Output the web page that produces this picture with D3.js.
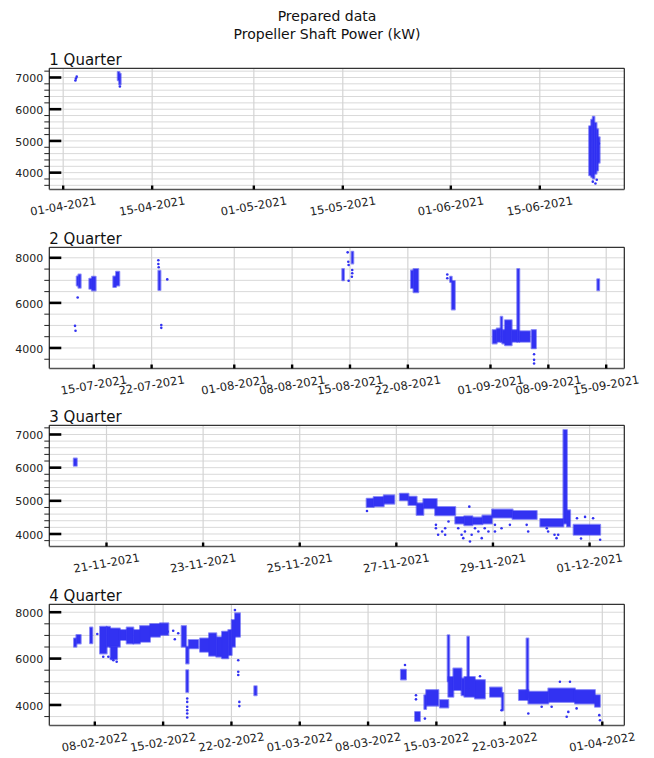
<!DOCTYPE html>
<html>
<head>
<meta charset="utf-8">
<script src="https://cdn.jsdelivr.net/npm/d3@7"></script>
<style>
  html, body { margin: 0; padding: 0; background: #fff; }
  svg { display: block; font-family: "DejaVu Sans", sans-serif; }
</style>
</head>
<body>
<svg id="chart" width="654" height="758"></svg>
<script>
// ---- Data: propeller shaft power readings (kW) per quarter ----
// Bands: [start, end, low, high] = span of dense readings over a time window.
// Points: [time, value] = isolated readings.

const quarterTitles = ["1 Quarter", "2 Quarter", "3 Quarter", "4 Quarter"];

const q1Range = ["2021-03-29T21:25", "2021-06-28T09:00"];
const q1Limits = [3453, 7274];
const q1XTicks = ["2021-04-01", "2021-04-15", "2021-05-01", "2021-05-15", "2021-06-01", "2021-06-15"];
const q1YTicks = [4000, 5000, 6000, 7000];
const q1Bands = [
  ["2021-04-09T16:00", "2021-04-09T21:00", 6900, 7160],
  ["2021-04-09T21:00", "2021-04-10T02:00", 6760, 7100],
  ["2021-06-22T20:00", "2021-06-23T04:00", 3900, 5450],
  ["2021-06-23T04:00", "2021-06-23T10:00", 3850, 5650],
  ["2021-06-23T10:00", "2021-06-23T16:00", 3800, 5750],
  ["2021-06-23T16:00", "2021-06-24T00:00", 3950, 5550],
  ["2021-06-24T00:00", "2021-06-24T05:00", 4050, 5350],
  ["2021-06-24T05:00", "2021-06-24T12:00", 4300, 5100]
];
const q1Points = [
  ["2021-04-03T00:00", 6890], ["2021-04-03T02:00", 6950], ["2021-04-03T05:00", 7010],
  ["2021-04-10T00:00", 6700],
  ["2021-06-23T10:00", 3700], ["2021-06-23T20:00", 3640], ["2021-06-24T01:00", 3760],
  ["2021-06-24T09:00", 4900]
];

const q2Range = ["2021-07-09T16:20", "2021-09-17T06:00"];
const q2Limits = [3067, 8444];
const q2XTicks = ["2021-07-15", "2021-07-22", "2021-08-01", "2021-08-08", "2021-08-15",
                  "2021-08-22", "2021-09-01", "2021-09-08", "2021-09-15"];
const q2YTicks = [4000, 6000, 8000];
const q2Bands = [
  ["2021-07-13T00:00", "2021-07-13T05:00", 6750, 7150],
  ["2021-07-13T05:00", "2021-07-13T11:30", 6650, 7240],
  ["2021-07-14T12:30", "2021-07-14T20:00", 6600, 7050],
  ["2021-07-14T20:00", "2021-07-15T07:00", 6530, 7140],
  ["2021-07-17T10:00", "2021-07-17T18:00", 6680, 7150],
  ["2021-07-17T18:00", "2021-07-18T03:30", 6750, 7360],
  ["2021-07-22T21:00", "2021-07-23T03:00", 6550, 7400],
  ["2021-08-14T03:00", "2021-08-14T08:00", 6980, 7480],
  ["2021-08-15T06:00", "2021-08-15T11:00", 7730, 8250],
  ["2021-08-22T10:30", "2021-08-22T18:00", 6640, 7410],
  ["2021-08-22T18:00", "2021-08-23T07:40", 6450, 7480],
  ["2021-08-27T04:00", "2021-08-27T09:00", 6900, 7140],
  ["2021-08-27T09:00", "2021-08-27T18:00", 5690, 6950],
  ["2021-09-01T07:40", "2021-09-01T19:30", 4180, 4770],
  ["2021-09-01T19:30", "2021-09-02T07:00", 4250, 4840],
  ["2021-09-02T07:00", "2021-09-02T11:40", 4250, 5360],
  ["2021-09-02T11:40", "2021-09-02T19:30", 4180, 4770],
  ["2021-09-02T19:30", "2021-09-03T15:00", 4100, 5210],
  ["2021-09-03T15:00", "2021-09-04T07:00", 4250, 4770],
  ["2021-09-04T07:00", "2021-09-04T13:00", 4250, 7480],
  ["2021-09-04T13:00", "2021-09-05T20:00", 4250, 4720],
  ["2021-09-06T01:00", "2021-09-06T13:30", 3960, 4770],
  ["2021-09-13T23:30", "2021-09-14T05:00", 6540, 7030]
];
const q2Points = [
  ["2021-07-12T19:00", 4960], ["2021-07-12T20:30", 4740], ["2021-07-13T02:40", 6220],
  ["2021-07-22T21:00", 7870], ["2021-07-22T21:00", 7700], ["2021-07-22T22:00", 7560],
  ["2021-07-23T05:30", 5000], ["2021-07-23T05:30", 4870], ["2021-07-23T22:50", 7020],
  ["2021-08-14T18:40", 8220], ["2021-08-14T20:30", 7800], ["2021-08-14T21:30", 7660],
  ["2021-08-14T21:30", 6960], ["2021-08-15T08:00", 7440], ["2021-08-15T08:00", 7290],
  ["2021-08-15T07:00", 7140],
  ["2021-08-26T20:00", 7240], ["2021-08-26T20:00", 7070],
  ["2021-09-06T08:00", 3700], ["2021-09-06T08:00", 3450], ["2021-09-06T08:00", 3290]
];

const q3Range = ["2021-11-19T19:50", "2021-12-01T17:30"];
const q3Limits = [3608, 7262];
const q3XTicks = ["2021-11-21", "2021-11-23", "2021-11-25", "2021-11-27", "2021-11-29", "2021-12-01"];
const q3YTicks = [4000, 5000, 6000, 7000];
const q3Bands = [
  ["2021-11-20T08:00", "2021-11-20T09:30", 6040, 6260],
  ["2021-11-26T09:30", "2021-11-26T13:00", 4800, 5050],
  ["2021-11-26T13:00", "2021-11-26T18:00", 4820, 5100],
  ["2021-11-26T18:00", "2021-11-26T23:15", 4900, 5150],
  ["2021-11-27T02:00", "2021-11-27T06:15", 5000, 5200],
  ["2021-11-27T06:15", "2021-11-27T10:20", 4860, 5110],
  ["2021-11-27T10:20", "2021-11-27T13:40", 4560, 4910],
  ["2021-11-27T13:40", "2021-11-27T20:20", 4760, 5040],
  ["2021-11-27T19:30", "2021-11-28T05:30", 4550, 4800],
  ["2021-11-28T05:30", "2021-11-28T10:00", 4300, 4500],
  ["2021-11-28T10:00", "2021-11-28T14:00", 4250, 4520],
  ["2021-11-28T14:00", "2021-11-28T19:00", 4280, 4480],
  ["2021-11-28T19:00", "2021-11-28T23:45", 4300, 4540],
  ["2021-11-28T23:45", "2021-11-29T10:00", 4480, 4720],
  ["2021-11-29T10:00", "2021-11-29T22:00", 4440, 4680],
  ["2021-11-29T23:45", "2021-11-30T11:15", 4210, 4440],
  ["2021-11-30T11:15", "2021-11-30T13:00", 4300, 7120],
  ["2021-11-30T13:00", "2021-11-30T14:35", 4210, 4700],
  ["2021-11-30T16:20", "2021-12-01T05:30", 3960, 4260]
];
const q3Points = [
  ["2021-11-26T09:40", 4680],
  ["2021-11-27T19:55", 4260], ["2021-11-27T19:55", 4160], ["2021-11-27T21:00", 3960],
  ["2021-11-27T23:00", 4060], ["2021-11-28T00:30", 4160], ["2021-11-28T00:30", 3960],
  ["2021-11-28T02:10", 4360], ["2021-11-28T07:00", 4160], ["2021-11-28T08:40", 3960],
  ["2021-11-28T09:30", 3860], ["2021-11-28T10:20", 4060], ["2021-11-28T12:30", 4810],
  ["2021-11-28T12:50", 3760], ["2021-11-28T13:40", 3960], ["2021-11-28T15:20", 4160],
  ["2021-11-28T17:00", 4060], ["2021-11-28T18:40", 3860], ["2021-11-28T20:10", 4160],
  ["2021-11-28T22:00", 4060], ["2021-11-29T01:15", 4260], ["2021-11-29T01:15", 4060],
  ["2021-11-29T04:30", 4160], ["2021-11-29T08:40", 4260], ["2021-11-29T17:00", 4260],
  ["2021-11-29T17:45", 4060], ["2021-11-30T03:00", 4160], ["2021-11-30T03:40", 4060],
  ["2021-11-30T06:50", 3960], ["2021-11-30T07:50", 3860], ["2021-11-30T08:40", 3960],
  ["2021-11-30T18:00", 4460], ["2021-11-30T20:00", 3850], ["2021-11-30T22:00", 4500],
  ["2021-12-01T02:00", 4460], ["2021-12-01T05:30", 3810]
];

const q4Range = ["2022-02-03T09:20", "2022-04-03T07:20"];
const q4Limits = [3093, 8320];
const q4XTicks = ["2022-02-08", "2022-02-15", "2022-02-22", "2022-03-01", "2022-03-08",
                  "2022-03-15", "2022-03-22", "2022-04-01"];
const q4YTicks = [4000, 6000, 8000];
const q4Bands = [
  ["2022-02-05T22:00", "2022-02-06T04:00", 6490, 6850],
  ["2022-02-06T04:00", "2022-02-06T14:40", 6630, 7000],
  ["2022-02-07T13:30", "2022-02-07T19:10", 6640, 7320],
  ["2022-02-08T14:00", "2022-02-09T06:30", 6200, 7350],
  ["2022-02-09T06:30", "2022-02-09T14:40", 6490, 7350],
  ["2022-02-09T14:40", "2022-02-10T15:00", 6490, 7280],
  ["2022-02-09T16:00", "2022-02-10T08:00", 5950, 6490],
  ["2022-02-10T15:00", "2022-02-11T07:40", 6780, 7210],
  ["2022-02-11T07:40", "2022-02-12T00:00", 6630, 7320],
  ["2022-02-12T00:00", "2022-02-12T16:20", 6630, 7210],
  ["2022-02-12T16:20", "2022-02-13T17:00", 6700, 7380],
  ["2022-02-13T17:00", "2022-02-14T17:30", 6920, 7470],
  ["2022-02-14T17:30", "2022-02-15T14:00", 7000, 7500],
  ["2022-02-16T22:50", "2022-02-17T09:40", 6490, 7380],
  ["2022-02-17T09:40", "2022-02-17T16:00", 5770, 6490],
  ["2022-02-17T10:00", "2022-02-17T15:00", 4540, 5480],
  ["2022-02-17T16:00", "2022-02-18T15:50", 6420, 6780],
  ["2022-02-18T20:00", "2022-02-19T18:00", 6270, 6850],
  ["2022-02-19T18:00", "2022-02-20T12:00", 6100, 7070],
  ["2022-02-20T12:00", "2022-02-21T02:00", 6060, 6900],
  ["2022-02-21T02:00", "2022-02-21T17:30", 5990, 7140],
  ["2022-02-21T17:30", "2022-02-22T02:00", 6130, 7210],
  ["2022-02-22T02:00", "2022-02-22T10:00", 6490, 7640],
  ["2022-02-22T10:00", "2022-02-22T22:20", 6920, 7930],
  ["2022-02-24T09:20", "2022-02-24T15:20", 4400, 4790],
  ["2022-03-11T10:00", "2022-03-11T22:30", 5080, 5500],
  ["2022-03-12T20:40", "2022-03-13T08:50", 3290, 3680],
  ["2022-03-13T19:30", "2022-03-14T00:00", 3800, 4400],
  ["2022-03-14T00:00", "2022-03-15T06:00", 3950, 4620],
  ["2022-03-15T10:00", "2022-03-16T06:30", 3870, 4190],
  ["2022-03-16T05:00", "2022-03-16T08:10", 5000, 6990],
  ["2022-03-16T06:30", "2022-03-16T19:00", 4330, 5190],
  ["2022-03-16T19:00", "2022-03-17T15:00", 4620, 5550],
  ["2022-03-17T15:00", "2022-03-17T22:00", 4400, 5120],
  ["2022-03-17T22:00", "2022-03-19T00:00", 4330, 5190],
  ["2022-03-18T05:20", "2022-03-18T09:20", 4700, 6920],
  ["2022-03-19T00:00", "2022-03-20T00:40", 4260, 5050],
  ["2022-03-20T13:00", "2022-03-21T18:00", 4330, 4730],
  ["2022-03-21T18:00", "2022-03-21T21:50", 3750, 4500],
  ["2022-03-23T12:15", "2022-03-24T11:20", 4190, 4620],
  ["2022-03-24T07:00", "2022-03-24T11:20", 4300, 6850],
  ["2022-03-24T11:20", "2022-03-26T12:30", 4040, 4550],
  ["2022-03-26T12:30", "2022-03-29T06:00", 4110, 4690],
  ["2022-03-29T06:00", "2022-03-31T07:10", 4040, 4620],
  ["2022-03-31T07:10", "2022-03-31T19:25", 3900, 4400]
];
const q4Points = [
  ["2022-02-08T07:20", 7040],
  ["2022-02-08T22:00", 6060], ["2022-02-09T10:30", 6060], ["2022-02-09T18:40", 5990],
  ["2022-02-09T22:50", 5910], ["2022-02-10T07:00", 5840],
  ["2022-02-15T12:20", 7140], ["2022-02-16T02:00", 7180], ["2022-02-16T06:00", 6810],
  ["2022-02-16T14:20", 7070],
  ["2022-02-17T12:30", 4260], ["2022-02-17T12:30", 4110], ["2022-02-17T12:30", 3900],
  ["2022-02-17T12:30", 3750], ["2022-02-17T12:30", 3610], ["2022-02-17T12:30", 3440],
  ["2022-02-22T09:50", 8070], ["2022-02-22T18:00", 5910], ["2022-02-22T18:00", 5410],
  ["2022-02-22T18:00", 5270], ["2022-02-22T20:40", 4110], ["2022-02-22T20:40", 3930],
  ["2022-03-11T20:00", 5700],
  ["2022-03-12T23:00", 4400], ["2022-03-12T23:00", 4220],
  ["2022-03-13T21:00", 3390],
  ["2022-03-19T12:30", 5220],
  ["2022-03-21T17:30", 3750],
  ["2022-03-24T11:20", 3610],
  ["2022-03-25T20:10", 3900], ["2022-03-26T20:40", 3900], ["2022-03-27T17:00", 4980],
  ["2022-03-28T09:40", 3470], ["2022-03-28T13:40", 3680], ["2022-03-28T17:45", 4980],
  ["2022-03-29T10:00", 3830],
  ["2022-03-31T17:50", 3540], ["2022-03-31T19:30", 3320]
];

// minor tick / grid step per quarter (kW)
const minorSteps = [200, 500, 200, 500];

// ---- Assemble panels ----
const panels = [
  { range: q1Range, limits: q1Limits, xTicks: q1XTicks, yTicks: q1YTicks, bands: q1Bands, points: q1Points },
  { range: q2Range, limits: q2Limits, xTicks: q2XTicks, yTicks: q2YTicks, bands: q2Bands, points: q2Points },
  { range: q3Range, limits: q3Limits, xTicks: q3XTicks, yTicks: q3YTicks, bands: q3Bands, points: q3Points },
  { range: q4Range, limits: q4Limits, xTicks: q4XTicks, yTicks: q4YTicks, bands: q4Bands, points: q4Points }
];

// ---- Layout ----
const plotLeft = 49.3, plotRight = 624.3, plotH = 121.2;
const panelTops = [68.3, 247.3, 425.3, 604.3];
const dotColor = "#3232f2";

const parseT = d3.utcParse("%Y-%m-%dT%H:%M");
const parseD = d3.utcParse("%Y-%m-%d");
const fmtD = d3.utcFormat("%d-%m-%Y");

const svg = d3.select("#chart");
svg.append("rect").attr("width", 654).attr("height", 758).attr("fill", "#fff");

// figure title
svg.append("text").attr("x", 327).attr("y", 21).attr("text-anchor", "middle")
  .attr("font-size", 14).attr("fill", "#111").text("Prepared data");
svg.append("text").attr("x", 327).attr("y", 38.5).attr("text-anchor", "middle")
  .attr("font-size", 14).attr("fill", "#111").text("Propeller Shaft Power (kW)");

panels.forEach((p, i) => {
  const g = svg.append("g").attr("transform", `translate(0,${panelTops[i]})`);
  const x = d3.scaleUtc().domain(p.range.map(parseT)).range([plotLeft, plotRight]);
  const y = d3.scaleLinear().domain(p.limits).range([plotH, 0]);
  const step = minorSteps[i];
  const minorAll = d3.range(Math.ceil(p.limits[0] / step) * step, p.limits[1], step);
  const minorOnly = minorAll.filter(v => !p.yTicks.includes(v));
  const xTickDates = p.xTicks.map(parseD);

  // horizontal grid (every minor step)
  const hGrid = g.append("g").attr("transform", `translate(${plotLeft},0)`)
    .call(d3.axisLeft(y).tickValues(minorAll).tickSize(-(plotRight - plotLeft)).tickFormat(""));
  hGrid.select(".domain").remove();
  hGrid.selectAll("line").attr("stroke", "#d9d9d9").attr("stroke-width", 1);

  // vertical grid at date ticks
  const vGrid = g.append("g").attr("transform", `translate(0,${plotH})`)
    .call(d3.axisBottom(x).tickValues(xTickDates).tickSize(-plotH).tickFormat(""));
  vGrid.select(".domain").remove();
  vGrid.selectAll("line").attr("stroke", "#d4d4d4").attr("stroke-width", 1.2);

  // readings
  const clipId = `clip${i}`;
  g.append("clipPath").attr("id", clipId).append("rect")
    .attr("x", plotLeft).attr("y", 0).attr("width", plotRight - plotLeft).attr("height", plotH);
  const dataG = g.append("g").attr("clip-path", `url(#${clipId})`);

  dataG.selectAll("rect.band").data(p.bands).join("rect")
    .attr("class", "band")
    .attr("x", d => x(parseT(d[0])))
    .attr("width", d => Math.max(x(parseT(d[1])) - x(parseT(d[0])), 1.6))
    .attr("y", d => y(d[3]))
    .attr("height", d => y(d[2]) - y(d[3]))
    .attr("fill", dotColor)
    .attr("stroke", dotColor).attr("stroke-opacity", 0.55)
    .attr("stroke-width", 2).attr("stroke-linejoin", "round");

  dataG.selectAll("circle.pt").data(p.points).join("circle")
    .attr("class", "pt")
    .attr("cx", d => x(parseT(d[0])))
    .attr("cy", d => y(d[1]))
    .attr("r", 1.3)
    .attr("fill", dotColor);

  // frame
  g.append("line").attr("x1", plotLeft).attr("x2", plotRight).attr("y1", 0).attr("y2", 0)
    .attr("stroke", "#333").attr("stroke-width", 1.2);
  g.append("line").attr("x1", plotRight).attr("x2", plotRight).attr("y1", 0).attr("y2", plotH)
    .attr("stroke", "#222").attr("stroke-width", 1.2);
  g.append("line").attr("x1", plotLeft).attr("x2", plotLeft).attr("y1", 0).attr("y2", plotH)
    .attr("stroke", "#222").attr("stroke-width", 1.2);
  g.append("line").attr("x1", plotLeft).attr("x2", plotRight).attr("y1", plotH).attr("y2", plotH)
    .attr("stroke", "#555").attr("stroke-width", 1.6);

  // y minor ticks (outward)
  const yMinor = g.append("g").attr("transform", `translate(${plotLeft},0)`)
    .call(d3.axisLeft(y).tickValues(minorOnly).tickSize(5).tickFormat(""));
  yMinor.select(".domain").remove();
  yMinor.selectAll("line").attr("stroke", "#222").attr("stroke-width", 1);

  // y major ticks (inward) with labels
  const yAxis = g.append("g").attr("transform", `translate(${plotLeft},0)`)
    .call(d3.axisLeft(y).tickValues(p.yTicks).tickSizeInner(-12).tickSizeOuter(0)
      .tickPadding(6).tickFormat(d3.format("d")));
  yAxis.select(".domain").remove();
  yAxis.selectAll("line").attr("stroke", "#000").attr("stroke-width", 2.6);
  yAxis.selectAll("text").attr("font-size", 11).attr("font-family", "DejaVu Sans, sans-serif")
    .attr("fill", "#222").attr("dy", "0.42em");

  // x ticks (short inward) with slanted date labels
  const xAxis = g.append("g").attr("transform", `translate(0,${plotH})`)
    .call(d3.axisBottom(x).tickValues(xTickDates).tickSizeInner(-4).tickSizeOuter(0)
      .tickFormat(fmtD));
  xAxis.select(".domain").remove();
  xAxis.selectAll("line").attr("stroke", "#000").attr("stroke-width", 2.4);
  xAxis.selectAll("text")
    .attr("y", null).attr("dy", null)
    .attr("transform", "translate(0,16.5) rotate(-10)")
    .attr("text-anchor", "middle").attr("dominant-baseline", "central")
    .attr("font-size", 11.5).attr("font-family", "DejaVu Sans, sans-serif").attr("fill", "#222");

  // quarter title
  g.append("text").attr("x", plotLeft).attr("y", -3).attr("font-size", 15)
    .attr("fill", "#111").text(quarterTitles[i]);
});
</script>
</body>
</html>
